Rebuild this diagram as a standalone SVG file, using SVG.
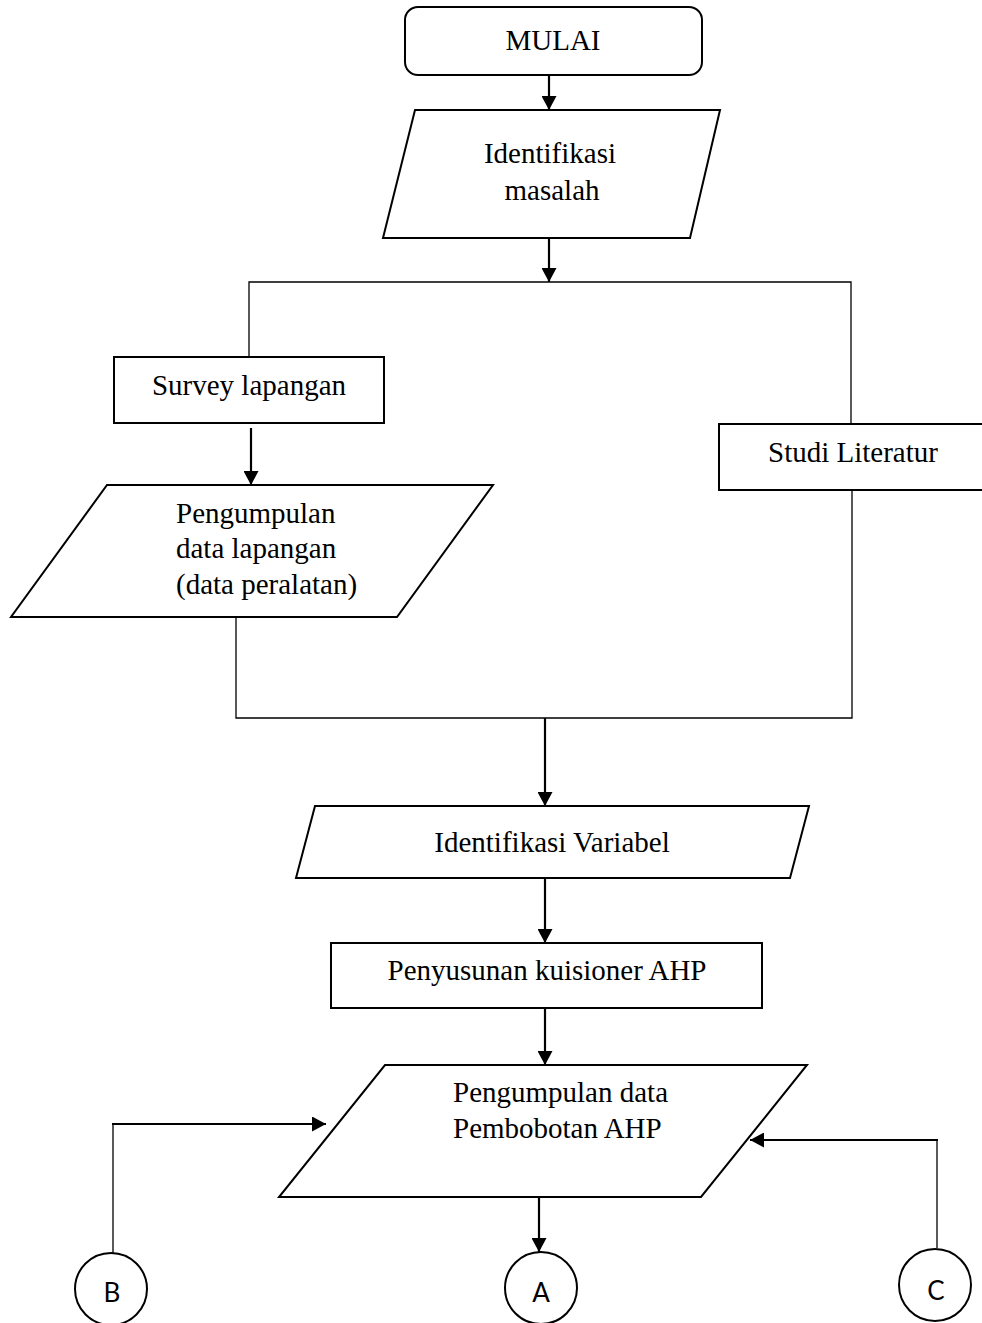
<svg xmlns="http://www.w3.org/2000/svg" width="982" height="1323" viewBox="0 0 982 1323">
<style>
.shape{fill:#fff;stroke:#000;stroke-width:2}
.thin{fill:none;stroke:#000;stroke-width:1.3}
.arr{fill:none;stroke:#000;stroke-width:2.2}
.t{font-family:"Liberation Serif","Times New Roman",serif;font-size:29px;fill:#000}
.c{text-anchor:middle}
.s{font-family:Lato,"Open Sans","Liberation Sans",sans-serif;font-size:26px;fill:#000;text-anchor:middle}
</style>
<defs>
<marker id="ah" viewBox="0 0 14 15" refX="14" refY="7.5" markerWidth="14" markerHeight="15" markerUnits="userSpaceOnUse" orient="auto">
<path d="M0,0 L14,7.5 L0,15 Z" fill="#000"/>
</marker>
</defs>
<rect width="982" height="1323" fill="#fff"/>
<g id="connectors">
<line class="arr" x1="549" y1="75" x2="549" y2="110" marker-end="url(#ah)"/>
<line class="arr" x1="549" y1="238" x2="549" y2="282" marker-end="url(#ah)"/>
<polyline class="thin" points="249,357 249,282 851,282 851,424"/>
<line class="arr" x1="251" y1="428" x2="251" y2="485" marker-end="url(#ah)"/>
<polyline class="thin" points="236,617 236,718 852,718 852,490"/>
<line class="arr" x1="545" y1="718" x2="545" y2="806" marker-end="url(#ah)"/>
<line class="arr" x1="545" y1="878" x2="545" y2="943" marker-end="url(#ah)"/>
<line class="arr" x1="545" y1="1008" x2="545" y2="1065" marker-end="url(#ah)"/>
<line class="arr" x1="539" y1="1197" x2="539" y2="1252" marker-end="url(#ah)"/>
<line class="thin" x1="113" y1="1253" x2="113" y2="1124"/>
<line class="arr" x1="112" y1="1124" x2="326" y2="1124" stroke-width="2.8" marker-end="url(#ah)"/>
<line class="thin" x1="937" y1="1248" x2="937" y2="1140"/>
<line class="arr" x1="938" y1="1140" x2="750" y2="1140" stroke-width="2.8" marker-end="url(#ah)"/>
</g>
<g id="mulai">
<rect class="shape" x="405" y="7" width="297" height="68" rx="13"/>
<text class="t c" x="553" y="50">MULAI</text>
</g>
<g id="identifikasi-masalah">
<polygon class="shape" points="415,110 720,110 690,238 383,238"/>
<text class="t c" x="550" y="163">Identifikasi</text>
<text class="t c" x="552" y="200">masalah</text>
</g>
<g id="survey-lapangan">
<rect class="shape" x="114" y="357" width="270" height="66"/>
<text class="t c" x="249" y="395">Survey lapangan</text>
</g>
<g id="studi-literatur">
<rect class="shape" x="719" y="424" width="275" height="66"/>
<text class="t" x="768" y="462">Studi Literatur</text>
</g>
<g id="pengumpulan-data-lapangan">
<polygon class="shape" points="107,485 493,485 397,617 11,617"/>
<text class="t" x="176" y="523">Pengumpulan</text>
<text class="t" x="176" y="558">data lapangan</text>
<text class="t" x="176" y="594">(data peralatan)</text>
</g>
<g id="identifikasi-variabel">
<polygon class="shape" points="315,806 809,806 790,878 296,878"/>
<text class="t c" x="552" y="852">Identifikasi Variabel</text>
</g>
<g id="penyusunan-kuisioner">
<rect class="shape" x="331" y="943" width="431" height="65"/>
<text class="t c" x="547" y="980">Penyusunan kuisioner AHP</text>
</g>
<g id="pengumpulan-ahp">
<polygon class="shape" points="385,1065 807,1065 701,1197 279,1197"/>
<text class="t" x="453" y="1102">Pengumpulan data</text>
<text class="t" x="453" y="1138">Pembobotan AHP</text>
</g>
<g id="conn-b">
<circle class="shape" cx="111" cy="1289" r="36"/>
<text class="s" x="112" y="1302">B</text>
</g>
<g id="conn-a">
<circle class="shape" cx="541" cy="1288" r="36"/>
<text class="s" x="541" y="1302">A</text>
</g>
<g id="conn-c">
<circle class="shape" cx="935" cy="1285" r="36"/>
<text class="s" x="936" y="1300">C</text>
</g>
</svg>
